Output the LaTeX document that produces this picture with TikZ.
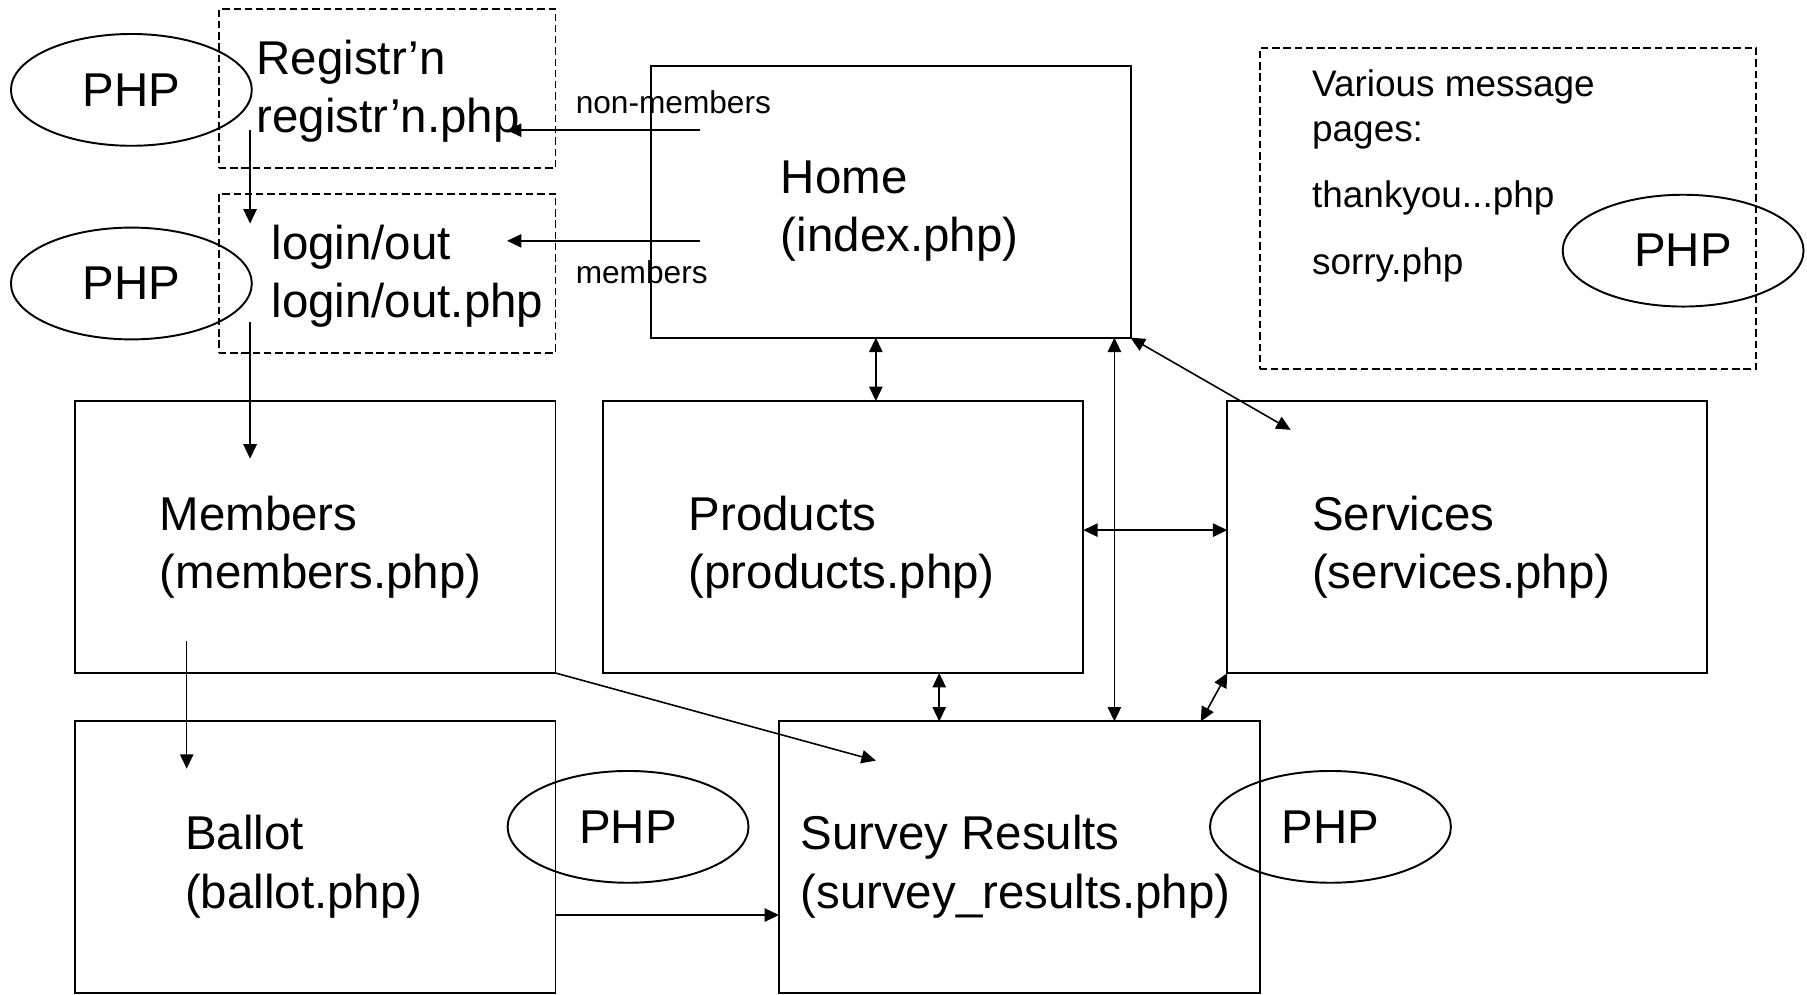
\documentclass[tikz,border=0pt]{standalone}
\usepackage{fontspec}
\setmainfont{Liberation Sans}
\usetikzlibrary{arrows.meta,shapes.geometric}
\newcommand{\pxu}{0.011524cm}
\begin{document}
\begin{tikzpicture}[x=0.011524cm, y=-0.011524cm,
  page/.style={draw, line width=0.55pt, inner sep=0pt, outer sep=0pt},
  dpage/.style={page, dash pattern=on 2.1pt off 1.1pt},
  phpnode/.style={draw, ellipse, line width=0.55pt, inner sep=0pt, outer sep=0pt,
    minimum width=209*\pxu, minimum height=97*\pxu, font=\fontsize{13.5}{16.6}\selectfont},
  lbl/.style={align=left, anchor=west, inner sep=0pt, yshift=-1.3pt, font=\fontsize{13.5}{16.6}\selectfont},
  msgtext/.style={align=left, anchor=west, inner sep=0pt, yshift=-1pt, font=\fontsize{10.5}{12.8}\selectfont},
  small/.style={anchor=west, inner sep=0pt, font=\fontsize{9}{11}\selectfont},
  link/.style={line width=0.45pt, -{Triangle[length=4.1pt,width=3.8pt]}},
  both/.style={line width=0.45pt, {Triangle[length=4.1pt,width=3.8pt]}-{Triangle[length=4.1pt,width=3.8pt]}}]

\useasboundingbox (0,0) rectangle (1568,863);

% page boxes
\node[dpage, minimum width=292*\pxu, minimum height=138*\pxu] (reg) at (336,77) {};
\node[dpage, minimum width=292*\pxu, minimum height=138*\pxu] (login) at (336,237) {};
\node[page, minimum width=416*\pxu, minimum height=236*\pxu] (home) at (773,175) {};
\node[dpage, minimum width=431*\pxu, minimum height=278*\pxu] (msg) at (1308.5,181) {};
\node[page, minimum width=417*\pxu, minimum height=236*\pxu] (members) at (273.5,466) {};
\node[page, minimum width=417*\pxu, minimum height=236*\pxu] (products) at (731.5,466) {};
\node[page, minimum width=416*\pxu, minimum height=236*\pxu] (services) at (1273,466) {};
\node[page, minimum width=417*\pxu, minimum height=236*\pxu] (ballot) at (273.5,744) {};
\node[page, minimum width=417*\pxu, minimum height=236*\pxu] (survey) at (884.5,744) {};

% page titles
\node[lbl] (regt) at (222,75) {Registr’n\\registr’n.php};
\node[lbl] (logint) at (235,236) {login/out\\login/out.php};
\node[lbl] (homet) at (677,179) {Home\\(index.php)};
\node[msgtext] (msgt) at (1138,149.5) {Various message\\pages:\\[6.2pt]thankyou...php\\[6.2pt]sorry.php};
\node[lbl] (memberst) at (138,471) {Members\\(members.php)};
\node[lbl] (productst) at (597,471) {Products\\(products.php)};
\node[lbl] (servicest) at (1138,471) {Services\\(services.php)};
\node[lbl] (ballott) at (160,748) {Ballot\\(ballot.php)};
\node[lbl] (surveyt) at (694,748) {Survey Results\\(survey\_results.php)};

% PHP markers
\node[phpnode] (php1) at (114,78) {PHP};
\node[phpnode] (php2) at (114,246) {PHP};
\node[phpnode] (php3) at (545,717.5) {PHP};
\node[phpnode] (php4) at (1154.5,717.5) {PHP};
\node[phpnode] (php5) at (1460.5,217.5) {PHP};

% entry from home
\coordinate (nmA) at (607,113);
\coordinate (nmB) at (440,113);
\draw[link] (nmA) -- (nmB);
\node[small] (nmlab) at (499,89) {non-members};
\coordinate (mA) at (607,209);
\coordinate (mB) at (440,209);
\draw[link] (mA) -- (mB);
\node[small] (mlab) at (499,236) {members};

% registration and login flow
\coordinate (rl1) at (217,113);
\coordinate (rl2) at (217,194);
\draw[link] (rl1) -- (rl2);
\coordinate (lm1) at (217,279);
\coordinate (lm2) at (217,398);
\draw[link] (lm1) -- (lm2);
\coordinate (mb1) at (162,556);
\coordinate (mb2) at (162,667);
\draw[link] (mb1) -- (mb2);
\coordinate (ms2) at (760,660);
\draw[link] (members.south east) -- (ms2);
\coordinate (bs) at (0,794);
\draw[link] (ballot.east |- bs) -- (survey.west |- bs);

% navigation between main pages
\coordinate (hp) at (760,0);
\draw[both] (home.south -| hp) -- (products.north -| hp);
\coordinate (hs) at (967,0);
\draw[both] (home.south -| hs) -- (survey.north -| hs);
\coordinate (hv) at (1120,373);
\draw[both] (home.south east) -- (hv);
\coordinate (ps) at (0,460);
\draw[both] (products.east |- ps) -- (services.west |- ps);
\coordinate (pv) at (815,0);
\draw[both] (products.south -| pv) -- (survey.north -| pv);
\coordinate (sv) at (1042,0);
\draw[both] (services.south west) -- (survey.north -| sv);
\end{tikzpicture}
\end{document}
